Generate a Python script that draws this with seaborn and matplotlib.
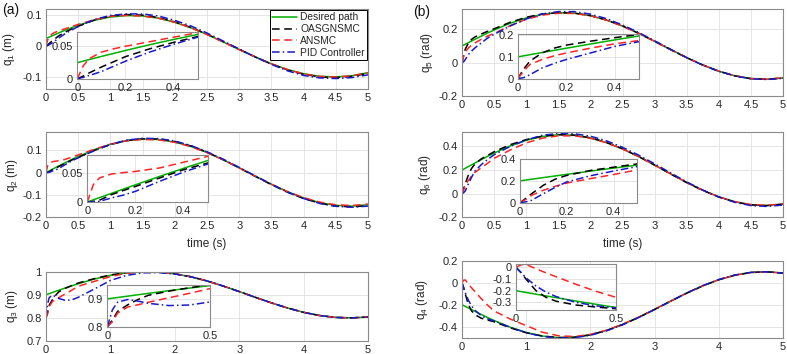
import matplotlib
matplotlib.use("Agg")
import matplotlib.pyplot as plt
import seaborn as sns

sns.set_theme(style="white")
plt.rcParams['font.family'] = ['Liberation Sans', 'DejaVu Sans']
plt.rcParams['mathtext.default'] = 'regular'
plt.rcParams['axes.unicode_minus'] = False

# ---------------- data ----------------
time = [0, 0.025, 0.05, 0.1, 0.15, 0.2, 0.3, 0.4, 0.5, 0.75, 1.0, 1.25, 1.5, 1.75,
        2.0, 2.25, 2.5, 2.75, 3.0, 3.25, 3.5, 3.75, 4.0, 4.25, 4.5, 4.75, 5.0]

series_names = ['Desired path', 'OASGNSMC', 'ANSMC', 'PID Controller']

q1_desired = [0.0247, 0.0272, 0.0296, 0.0343, 0.0389, 0.0435, 0.0523, 0.0605, 0.0682, 0.0842, 0.0949, 0.0998, 0.0984, 0.0909,
              0.0778, 0.0599, 0.0382, 0.0141, -0.0108, -0.0351, -0.0572, -0.0757, -0.0895, -0.0978, -0.0999, -0.0959, -0.0859]
q1_oasgnsmc = [0.0, 0.004, 0.009, 0.018, 0.026, 0.034, 0.046, 0.056, 0.065, 0.085, 0.098, 0.103, 0.101, 0.093,
               0.079, 0.061, 0.039, 0.015, -0.010, -0.035, -0.058, -0.077, -0.091, -0.100, -0.102, -0.098, -0.088]
q1_ansmc = [0.0, 0.020, 0.031, 0.041, 0.046, 0.050, 0.057, 0.064, 0.071, 0.086, 0.097, 0.100, 0.098, 0.091,
            0.078, 0.060, 0.038, 0.014, -0.011, -0.035, -0.057, -0.076, -0.090, -0.098, -0.100, -0.096, -0.086]
q1_pid = [0.0, 0.002, 0.005, 0.011, 0.019, 0.027, 0.041, 0.053, 0.064, 0.087, 0.100, 0.105, 0.105, 0.098,
          0.084, 0.066, 0.043, 0.017, -0.009, -0.035, -0.059, -0.080, -0.095, -0.103, -0.105, -0.102, -0.093]

q2_desired = [0.0, 0.0038, 0.0075, 0.015, 0.0224, 0.0298, 0.0443, 0.0584, 0.0719, 0.1022, 0.1262, 0.1424, 0.1496, 0.1476,
              0.1364, 0.1167, 0.0898, 0.0573, 0.0212, -0.0162, -0.0526, -0.0857, -0.1135, -0.1343, -0.1466, -0.1499, -0.1438]
q2_oasgnsmc = [0.0, 0.001, 0.003, 0.0127, 0.020, 0.027, 0.0416, 0.056, 0.0676, 0.099, 0.125, 0.143, 0.151, 0.150,
               0.139, 0.119, 0.091, 0.058, 0.021, -0.017, -0.054, -0.088, -0.116, -0.137, -0.150, -0.153, -0.148]
q2_ansmc = [0.0, 0.030, 0.0416, 0.0485, 0.051, 0.053, 0.059, 0.069, 0.079, 0.104, 0.127, 0.142, 0.148, 0.146,
            0.135, 0.116, 0.089, 0.057, 0.021, -0.016, -0.052, -0.085, -0.112, -0.132, -0.144, -0.147, -0.141]
q2_pid = [0.0, 0.0005, 0.001, 0.007, 0.012, 0.0185, 0.0358, 0.052, 0.0658, 0.098, 0.126, 0.145, 0.153, 0.152,
          0.141, 0.121, 0.093, 0.060, 0.023, -0.015, -0.052, -0.087, -0.116, -0.138, -0.151, -0.155, -0.150]

q3_desired = [0.9, 0.9025, 0.905, 0.91, 0.915, 0.9199, 0.9296, 0.9389, 0.9479, 0.9682, 0.9842, 0.9949, 0.9997, 0.9984,
              0.9909, 0.9778, 0.9599, 0.9382, 0.9141, 0.8892, 0.8649, 0.8428, 0.8243, 0.8105, 0.8023, 0.8001, 0.8041]
q3_oasgnsmc = [0.8, 0.824, 0.855, 0.879, 0.898, 0.913, 0.928, 0.940, 0.951, 0.970, 0.986, 0.996, 1.000, 0.998,
               0.991, 0.978, 0.960, 0.938, 0.914, 0.889, 0.865, 0.843, 0.824, 0.810, 0.802, 0.800, 0.804]
q3_ansmc = [0.8, 0.818, 0.849, 0.871, 0.879, 0.888, 0.904, 0.920, 0.937, 0.958, 0.979, 0.993, 0.999, 0.998,
            0.991, 0.978, 0.960, 0.938, 0.914, 0.889, 0.865, 0.843, 0.824, 0.810, 0.802, 0.800, 0.804]
q3_pid = [0.8, 0.861, 0.888, 0.898, 0.892, 0.884, 0.876, 0.878, 0.889, 0.925, 0.962, 0.984, 0.995, 0.996,
          0.990, 0.978, 0.960, 0.938, 0.914, 0.889, 0.865, 0.843, 0.824, 0.810, 0.802, 0.800, 0.804]

q5_desired = [0.1, 0.105, 0.11, 0.12, 0.1299, 0.1397, 0.1591, 0.1779, 0.1959, 0.2363, 0.2683, 0.2898, 0.2995, 0.2968,
              0.2819, 0.2556, 0.2197, 0.1763, 0.1282, 0.0784, 0.0298, -0.0143, -0.0514, -0.079, -0.0955, -0.0999, -0.0918]
q5_oasgnsmc = [0.0, 0.045, 0.080, 0.118, 0.140, 0.154, 0.172, 0.188, 0.203, 0.242, 0.272, 0.292, 0.300, 0.297,
               0.282, 0.256, 0.220, 0.176, 0.128, 0.078, 0.030, -0.014, -0.051, -0.079, -0.096, -0.100, -0.092]
q5_ansmc = [0.0, 0.035, 0.065, 0.088, 0.105, 0.118, 0.140, 0.160, 0.175, 0.222, 0.260, 0.285, 0.296, 0.295,
            0.281, 0.255, 0.219, 0.176, 0.128, 0.078, 0.030, -0.014, -0.051, -0.079, -0.095, -0.099, -0.091]
q5_pid = [0.0, 0.005, 0.018, 0.049, 0.070, 0.088, 0.118, 0.148, 0.170, 0.220, 0.262, 0.292, 0.306, 0.306,
          0.291, 0.264, 0.226, 0.181, 0.131, 0.080, 0.030, -0.015, -0.052, -0.080, -0.097, -0.101, -0.094]

q6_desired = [0.2, 0.2075, 0.215, 0.2299, 0.2448, 0.2596, 0.2887, 0.3168, 0.3438, 0.4045, 0.4524, 0.4847, 0.4992, 0.4952,
              0.4728, 0.4334, 0.3796, 0.3145, 0.2423, 0.1675, 0.0948, 0.0285, -0.027, -0.0685, -0.0933, -0.0998, -0.0877]
q6_oasgnsmc = [0.0, 0.040, 0.083, 0.160, 0.215, 0.250, 0.295, 0.325, 0.355, 0.415, 0.458, 0.487, 0.500, 0.496,
               0.473, 0.434, 0.380, 0.315, 0.242, 0.167, 0.094, 0.028, -0.028, -0.070, -0.095, -0.101, -0.089]
q6_ansmc = [0.0, 0.030, 0.068, 0.114, 0.150, 0.180, 0.220, 0.258, 0.300, 0.370, 0.430, 0.470, 0.490, 0.490,
            0.470, 0.432, 0.379, 0.315, 0.243, 0.168, 0.095, 0.029, -0.027, -0.068, -0.092, -0.098, -0.086]
q6_pid = [0.0, 0.008, 0.022, 0.083, 0.140, 0.190, 0.246, 0.290, 0.330, 0.400, 0.455, 0.495, 0.510, 0.508,
          0.487, 0.448, 0.393, 0.327, 0.253, 0.176, 0.100, 0.031, -0.028, -0.073, -0.101, -0.108, -0.096]

q4_desired = [-0.2, -0.2075, -0.215, -0.2299, -0.2448, -0.2596, -0.2887, -0.3168, -0.3438, -0.4045, -0.4524, -0.4847, -0.4992, -0.4952,
              -0.4728, -0.4334, -0.3796, -0.3145, -0.2423, -0.1675, -0.0948, -0.0285, 0.027, 0.0685, 0.0933, 0.0998, 0.0877]
q4_oasgnsmc = [0.0, -0.045, -0.100, -0.200, -0.257, -0.290, -0.323, -0.340, -0.355, -0.410, -0.455, -0.485, -0.499, -0.496,
               -0.474, -0.435, -0.381, -0.316, -0.243, -0.168, -0.095, -0.029, 0.027, 0.068, 0.093, 0.099, 0.087]
q4_ansmc = [0.0, 0.022, 0.025, -0.012, -0.047, -0.080, -0.145, -0.205, -0.257, -0.330, -0.390, -0.450, -0.482, -0.490,
            -0.470, -0.432, -0.378, -0.314, -0.242, -0.167, -0.094, -0.028, 0.027, 0.068, 0.093, 0.099, 0.087]
q4_pid = [0.0, -0.043, -0.090, -0.160, -0.212, -0.250, -0.300, -0.330, -0.347, -0.405, -0.455, -0.488, -0.503, -0.500,
          -0.478, -0.438, -0.383, -0.317, -0.244, -0.168, -0.094, -0.027, 0.029, 0.070, 0.094, 0.099, 0.087]

# ---------------- style ----------------
colors = ['#00b000', '#000000', '#ff2424', '#1818cc']
linestyles = ['-', (0, (5, 3)), (0, (5, 3)), (0, (5, 2, 1, 2))]

W, H = 787, 354
fig = plt.figure(figsize=(W / 100, H / 100), dpi=100)


def rect(x0, y0, x1, y1):
    return [x0 / W, (H - y1) / H, (x1 - x0) / W, (y1 - y0) / H]


def fmt(v):
    s = ('%.3f' % v).rstrip('0').rstrip('.')
    return '0' if s in ('-0', '') else s


def style_axes(ax, fs=8):
    ax.set_facecolor('white')
    for sp in ax.spines.values():
        sp.set_color('#8a8a8a')
        sp.set_linewidth(0.8)
    ax.tick_params(direction='in', length=3, width=0.6, color='#8a8a8a',
                   labelsize=fs, labelcolor='#262626', pad=3)
    ax.grid(True, color='#e0e0e0', linewidth=0.6)
    ax.set_axisbelow(True)


def draw(ax, data):
    for vals, c, ls in zip(data, colors, linestyles):
        sns.lineplot(x=time, y=vals, ax=ax, color=c, linestyle=ls, linewidth=1.1,
                     estimator=None, sort=False, legend=False)
    ax.set_xlabel('')
    ax.set_ylabel('')


panels = [
    dict(data=[q1_desired, q1_oasgnsmc, q1_ansmc, q1_pid], r=(46, 9.3, 368, 89.3),
         ylim=(-0.14, 0.12), yt=[-0.1, 0, 0.1], xt=[0, 0.5, 1, 1.5, 2, 2.5, 3, 3.5, 4, 4.5, 5],
         ylabel='q$_1$ (m)', lx=-0.09,
         ir=(77.3, 32, 197.7, 78.7), iylim=(0, 0.072), iyt=[0, 0.05], ixt=[0, 0.2, 0.4]),
    dict(data=[q2_desired, q2_oasgnsmc, q2_ansmc, q2_pid], r=(46, 132.3, 368, 217.3),
         ylim=(-0.2, 0.18), yt=[-0.2, -0.1, 0, 0.1], xt=[0, 0.5, 1, 1.5, 2, 2.5, 3, 3.5, 4, 4.5, 5],
         ylabel='q$_2$ (m)', lx=-0.081, xlabel=True,
         ir=(87.3, 154.7, 207.7, 202), iylim=(0, 0.082), iyt=[0, 0.05], ixt=[0, 0.2, 0.4]),
    dict(data=[q3_desired, q3_oasgnsmc, q3_ansmc, q3_pid], r=(46, 271.7, 368, 341),
         ylim=(0.7, 1.0), yt=[0.7, 0.8, 0.9, 1.0], xt=[0, 1, 2, 3, 4, 5],
         ylabel='q$_3$ (m)', lx=-0.081,
         ir=(107.3, 285, 210, 326.7), iylim=(0.8, 0.95), iyt=[0.8, 0.9], ixt=[0, 0.5]),
    dict(data=[q5_desired, q5_oasgnsmc, q5_ansmc, q5_pid], r=(462, 9.3, 783, 96),
         ylim=(-0.2, 0.32), yt=[-0.2, 0, 0.2], xt=[0, 0.5, 1, 1.5, 2, 2.5, 3, 3.5, 4, 4.5, 5],
         ylabel='q$_5$ (rad)', lx=-0.084,
         ir=(517.7, 34, 639, 78.7), iylim=(0, 0.205), iyt=[0, 0.1, 0.2], ixt=[0, 0.2, 0.4]),
    dict(data=[q6_desired, q6_oasgnsmc, q6_ansmc, q6_pid], r=(462, 132.3, 783, 217.3),
         ylim=(-0.2, 0.52), yt=[-0.2, 0, 0.2, 0.4], xt=[0, 0.5, 1, 1.5, 2, 2.5, 3, 3.5, 4, 4.5, 5],
         ylabel='q$_6$ (rad)', lx=-0.09, xlabel=True,
         ir=(520, 159, 637, 202.7), iylim=(0, 0.4), iyt=[0, 0.2, 0.4], ixt=[0, 0.2, 0.4]),
    dict(data=[q4_desired, q4_oasgnsmc, q4_ansmc, q4_pid], r=(462, 260.7, 783, 337.7),
         ylim=(-0.5, 0.2), yt=[-0.4, -0.2, 0, 0.2], xt=[0, 1, 2, 3, 4, 5],
         ylabel='q$_4$ (rad)', lx=-0.1,
         ir=(516, 264, 616, 309.7), iylim=(-0.363, 0.029), iyt=[-0.3, -0.2, -0.1, 0], ixt=[0, 0.5]),
]

main_axes = []
for p in panels:
    ax = fig.add_axes(rect(*p['r']))
    style_axes(ax)
    draw(ax, p['data'])
    ax.set_xlim(0, 5)
    ax.set_ylim(*p['ylim'])
    ax.set_xticks(p['xt'])
    ax.set_xticklabels([fmt(v) for v in p['xt']])
    ax.set_yticks(p['yt'])
    ax.set_yticklabels([fmt(v) for v in p['yt']])
    ax.set_ylabel(p['ylabel'], fontsize=8.5, color='#262626')
    ax.yaxis.set_label_coords(p['lx'], 0.5)
    if p.get('xlabel'):
        ax.set_xlabel('time (s)', fontsize=8.5, color='#262626', labelpad=5)
    main_axes.append(ax)

    axin = fig.add_axes(rect(*p['ir']))
    style_axes(axin)
    axin.set_zorder(5)
    draw(axin, p['data'])
    axin.set_xlim(0, 0.5)
    axin.set_ylim(*p['iylim'])
    axin.set_xticks(p['ixt'])
    axin.set_xticklabels([fmt(v) for v in p['ixt']])
    axin.set_yticks(p['iyt'])
    axin.set_yticklabels([fmt(v) for v in p['iyt']])

# legend in first panel
ax0 = main_axes[0]
handles = ax0.get_lines()[:4]
leg = ax0.legend(handles, series_names, loc='upper right', fontsize=7.4,
                 frameon=True, fancybox=False, edgecolor='black', framealpha=1,
                 borderpad=0.2, handlelength=2.4, labelspacing=0.18,
                 handletextpad=0.35, borderaxespad=0.1)
leg.get_frame().set_linewidth(0.7)
leg.set_zorder(10)

fig.text(2 / W, 1 - 10 / H, '(a)', fontsize=10, ha='left', va='center', color='#111111')
fig.text(413 / W, 1 - 12 / H, '(b)', fontsize=10, ha='left', va='center', color='#111111')

fig.savefig('out.png', dpi=100)
